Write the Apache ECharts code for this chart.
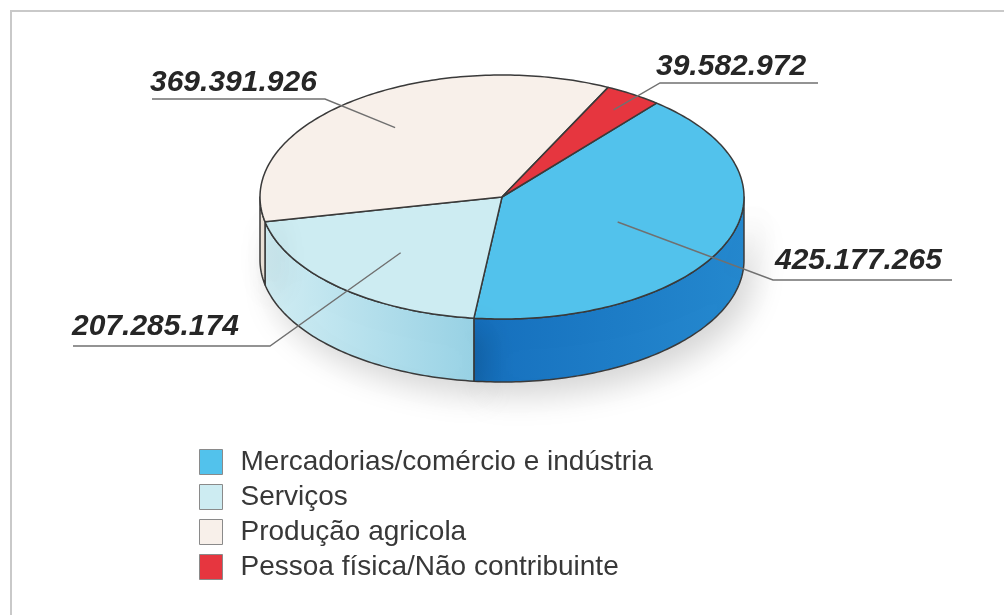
<!DOCTYPE html>
<html>
<head>
<meta charset="utf-8">
<script src="https://cdn.jsdelivr.net/npm/echarts@6/dist/echarts.min.js"></script>
<style>
  html, body { margin: 0; padding: 0; background: #fff; }
  #chart { width: 1004px; height: 615px; }
</style>
</head>
<body>
<div id="chart"></div>
<script>
// dados
var cats = ['Mercadorias/comércio e indústria', 'Serviços', 'Produção agricola', 'Pessoa física/Não contribuinte'];
var vals = [425177265, 207285174, 369391926, 39582972];

// geometria da pizza 3d (elipse)
var pie = { cx: 502, cy: 197, rx: 242, ry: 122, depth: 63, start: -50.3 };
var topColors = ['#52C2EC', '#CDECF2', '#F8F0EA', '#E6363F'];
var wallColors = [
  ['#1670BE', '#2589CF'],
  ['#D2EEF4', '#98D2E5'],
  ['#EFE6DD', '#E6DCD2'],
  ['#B8262E', '#C9313A']
];
// posicao dos rotulos: x do texto, y do texto, fracao do raio, cotovelo, fim da linha
var labelPos = [
  { x: 775, y: 261, k: 0.52, elbow: [773, 280], end: [952, 280] },
  { x: 72,  y: 327, k: 0.62, elbow: [270, 346], end: [73, 346] },
  { x: 150, y: 83,  k: 0.72, elbow: [325, 99],  end: [152, 99] },
  { x: 656, y: 67,  k: 0.85, elbow: [660, 83],  end: [818, 83] }
];

var total = 0;
for (var i = 0; i < vals.length; i++) total += vals[i];

function fmt(v) {
  return String(v).replace(/\B(?=(\d{3})+(?!\d))/g, '.');
}

function ellPts(a0, a1, dy) {
  var pts = [];
  var n = Math.max(2, Math.ceil(Math.abs(a1 - a0)));
  for (var j = 0; j <= n; j++) {
    var a = (a0 + (a1 - a0) * j / n) * Math.PI / 180;
    pts.push([pie.cx + pie.rx * Math.cos(a), pie.cy + dy + pie.ry * Math.sin(a)]);
  }
  return pts;
}

function makeRender(idx) {
  return function (params, api) {
    var before = 0;
    for (var j = 0; j < idx; j++) before += vals[j];
    var v = api.value(0);
    var s = pie.start + before / total * 360;
    var e = s + v / total * 360;
    var children = [];
    var line = '#3a3a3a';

    // parede lateral (so a parte da frente, 0..180 graus)
    var lo = Math.max(s, 0), hi = Math.min(e, 180);
    if (lo < hi) {
      var wall = ellPts(lo, hi, 0).concat(ellPts(hi, lo, pie.depth));
      children.push({
        type: 'polygon',
        shape: { points: wall },
        style: {
          fill: new echarts.graphic.LinearGradient(0, 0, 1, 0, [
            { offset: 0, color: wallColors[idx][0] },
            { offset: 1, color: wallColors[idx][1] }
          ]),
          stroke: line, lineWidth: 1.5, lineJoin: 'round',
          shadowBlur: 30, shadowColor: 'rgba(0,0,0,0.16)', shadowOffsetX: 10, shadowOffsetY: 14
        }
      });
    }

    // topo
    var top = [[pie.cx, pie.cy]].concat(ellPts(s, e, 0));
    children.push({
      type: 'polygon',
      shape: { points: top },
      style: { fill: topColors[idx], stroke: line, lineWidth: 1.5, lineJoin: 'round' }
    });

    // rotulo com linha de chamada
    var lp = labelPos[idx];
    var mid = (s + e) / 2 * Math.PI / 180;
    var ax = pie.cx + pie.rx * lp.k * Math.cos(mid);
    var ay = pie.cy + pie.ry * lp.k * Math.sin(mid);
    children.push({
      type: 'polyline',
      shape: { points: [[ax, ay], lp.elbow, lp.end] },
      style: { stroke: '#707070', lineWidth: 1.4, fill: null }
    });
    children.push({
      type: 'text',
      style: {
        text: fmt(v),
        x: lp.x, y: lp.y,
        textAlign: 'left', textVerticalAlign: 'middle',
        font: 'italic bold 30px "Liberation Sans", Arial, sans-serif',
        fill: '#262626'
      }
    });

    return { type: 'group', children: children };
  };
}

var series = [];
for (var i = 0; i < cats.length; i++) {
  series.push({
    name: cats[i],
    type: 'custom',
    coordinateSystem: 'none',
    itemStyle: { color: topColors[i] },
    renderItem: makeRender(i),
    data: [[vals[i]]],
    silent: true,
    animation: false
  });
}

var myChart = echarts.init(document.getElementById('chart'));
var option = {
  backgroundColor: '#fff',
  animation: false,
  legend: {
    orient: 'vertical',
    left: 194,
    top: 443,
    icon: 'rect',
    itemWidth: 23,
    itemHeight: 25,
    itemGap: 7,
    selectedMode: false,
    itemStyle: { borderColor: '#8a8a8a', borderWidth: 1 },
    textStyle: {
      fontSize: 28,
      lineHeight: 26,
      color: '#383838',
      fontFamily: '"Liberation Sans", Arial, sans-serif',
      padding: [0, 0, 0, 13]
    },
    data: cats
  },
  graphic: [
    { type: 'line', shape: { x1: 10, y1: 11, x2: 1004, y2: 11 }, style: { stroke: '#c9c9c9', lineWidth: 2 } },
    { type: 'line', shape: { x1: 11, y1: 10, x2: 11, y2: 615 }, style: { stroke: '#c9c9c9', lineWidth: 2 } }
  ],
  series: series
};
myChart.setOption(option);
</script>
</body>
</html>
